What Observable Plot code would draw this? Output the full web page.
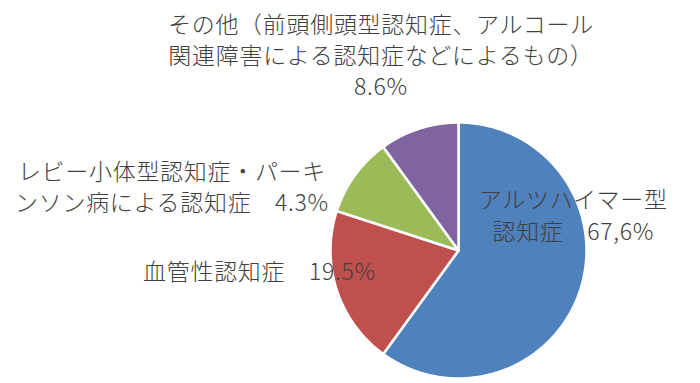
<!DOCTYPE html>
<html>
<head>
<meta charset="utf-8">
<script src="https://cdn.jsdelivr.net/npm/d3@7"></script>
<script src="https://cdn.jsdelivr.net/npm/@observablehq/plot@0.6"></script>
<style>
  html, body { margin: 0; padding: 0; background: #fff; }
  #chart svg { display: block; }
  .lbl text { letter-spacing: 0.7px; }
</style>
</head>
<body>
<div id="chart"></div>
<script>
// ---- data ----
const categories = [
  "アルツハイマー型認知症",
  "血管性認知症",
  "レビー小体型認知症・パーキンソン病による認知症",
  "その他（前頭側頭型認知症、アルコール関連障害による認知症などによるもの）"
];
// slice sizes as drawn in the picture (%)
const sliceValues = [60, 20, 10, 10];
// label texts as printed on the picture
const labelNames = [
  "アルツハイマー型\n認知症",
  "血管性認知症",
  "レビー小体型認知症・パーキ\nンソン病による認知症",
  "その他（前頭側頭型認知症、アルコール\n関連障害による認知症などによるもの）\n"
];
const labelPercents = ["67,6%", "19.5%", "4.3%", "8.6%"];
const colors = ["#4F81BD", "#C0504D", "#9BBB59", "#8064A2"];

// ---- layout (styles, not data) ----
const labelLayout = [
  {dx: -7, dy: -76, anchor: "middle", sep: "　"},
  {dx: 39, dy: -20, anchor: "end", sep: "　"},
  {dx: -183, dy: 10, anchor: "middle", sep: "　"},
  {dx: -38, dy: -75, anchor: "middle", sep: ""}
];

const arcs = d3.pie().sort(null).value(d => d)(sliceValues);
const pts = [];
arcs.forEach((a, i) => {
  const n = Math.max(2, Math.ceil((a.endAngle - a.startAngle) / (2 * Math.PI) * 360));
  pts.push({cat: categories[i], x: 0, y: 0});
  for (let k = 0; k <= n; k++) {
    const t = a.startAngle + (a.endAngle - a.startAngle) * k / n;
    pts.push({cat: categories[i], x: Math.sin(t), y: Math.cos(t)});
  }
});

const labelMarks = arcs.map((a, i) => {
  const mid = (a.startAngle + a.endAngle) / 2;
  const L = labelLayout[i];
  return Plot.text([{cat: categories[i]}], {
    x: () => Math.sin(mid),
    y: () => Math.cos(mid),
    text: () => labelNames[i] + L.sep + labelPercents[i],
    dx: L.dx, dy: L.dy,
    textAnchor: L.anchor,
    lineAnchor: "middle",
    lineHeight: 1.35,
    fontSize: 23,
    fontWeight: 300,
    fill: "#404040",
    className: "lbl"
  });
});

const chart = Plot.plot({
  width: 700,
  height: 383,
  margin: 0,
  x: {domain: [-1, 1], range: [330, 586], axis: null},
  y: {domain: [-1, 1], range: [378, 122], axis: null},
  color: {domain: categories, range: colors},
  style: {fontFamily: "'Noto Sans CJK JP', 'Noto Sans', sans-serif", background: "#fff"},
  marks: [
    Plot.line(pts, {x: "x", y: "y", z: "cat", fill: "cat", stroke: "#fff", strokeWidth: 2.5, curve: "linear-closed", strokeLinejoin: "round"}),
    ...labelMarks
  ]
});
document.getElementById("chart").appendChild(chart);
</script>
</body>
</html>
